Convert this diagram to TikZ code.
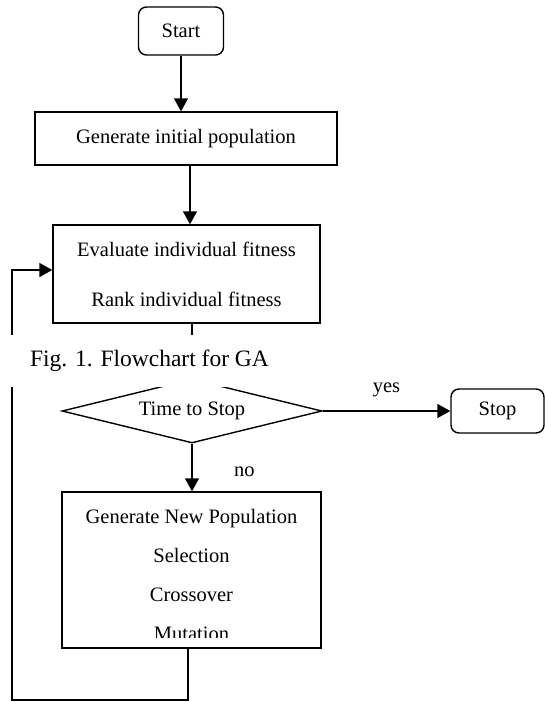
\documentclass[tikz,border=0pt]{standalone}
\usepackage{fontspec}
\setmainfont{Liberation Serif}
\usetikzlibrary{positioning,shapes.geometric,arrows.meta}

\begin{document}
\begin{tikzpicture}[
x=1pt, y=-1pt,
line width=1.4pt,
font=\fontsize{20.5}{24}\selectfont,
box/.style={draw, rectangle, align=center},
rbox/.style={draw, rectangle, rounded corners=8pt},
dec/.style={draw, diamond, aspect=4, inner sep=0pt},
arr/.style={-{Triangle[length=13pt,width=14pt]}}]

\useasboundingbox (0,0) rectangle (545,702);

\node[rbox, minimum width=85pt, minimum height=48pt] (st) at (181,31) {Start};
\node[box, minimum width=302pt, minimum height=53pt] (gen) at (186,138.5) {Generate initial population};
\node[box, minimum width=267pt, minimum height=98pt] (ev) at (186.5,274) {Evaluate individual fitness\\[26pt]Rank individual fitness};
\node[dec, minimum width=260pt, minimum height=64pt] (ts) at (192,411) {Time to Stop};
\node[rbox, minimum width=93pt, minimum height=44pt] (sp) at (497.5,411) {Stop};
\node[box, minimum width=259pt, minimum height=156pt] (np) at (191.5,570) {};
\begin{scope}
\clip (np.north west) rectangle ([yshift=11pt]np.south east);
\node[align=center] (npt) at (191.5,575) {Generate New Population\\[15pt]Selection\\[15pt]Crossover\\[15pt]Mutation};
\end{scope}

\draw[arr] (st) -- (st |- gen.north);
\draw[arr] ([xshift=4pt]gen.south) -- ([xshift=4pt]gen.south |- ev.north);
\draw (ev.south -| ts.north) -- (ts.north);
\draw[arr] (ts.east) -- node[above=10pt]{yes} (sp.west);
\draw[arr] (ts.south) -- node[pos=0.6, right=38pt]{no} (ts.south |- np.north);

\coordinate (lb) at (188,700);
\coordinate (lc) at (12,700);
\draw[arr] (np.south -| lb) -- (lb) -- (lc) |- ([yshift=4pt]ev.west);

\node[fill=white, minimum width=300pt, minimum height=52pt, font=\fontsize{23.5}{28}\selectfont] (cap) at (149.5,361) {Fig. 1. Flowchart for GA};
\end{tikzpicture}
\end{document}
